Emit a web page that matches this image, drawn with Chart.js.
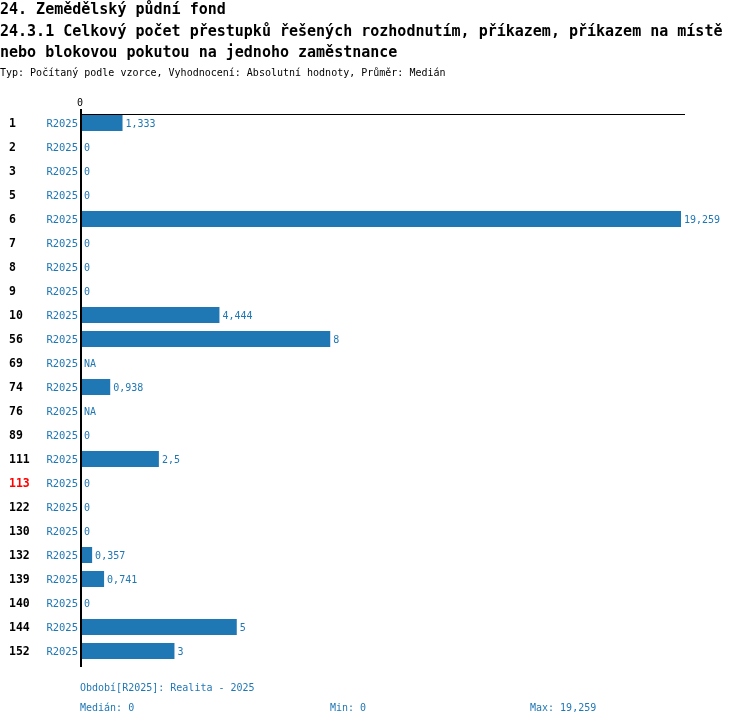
<!DOCTYPE html>
<html>
<head>
<meta charset="utf-8">
<script src="https://cdn.jsdelivr.net/npm/chart.js@4/dist/chart.umd.min.js"></script>
<style>
body { margin: 0; background: #fff; }
canvas { display: block; }
</style>
</head>
<body>
<canvas id="c" width="750" height="726"></canvas>
<script>
// data
var categories = ['1', '2', '3', '5', '6', '7', '8', '9', '10', '56', '69', '74', '76', '89', '111', '113', '122', '130', '132', '139', '140', '144', '152'];
var periods = ['R2025', 'R2025', 'R2025', 'R2025', 'R2025', 'R2025', 'R2025', 'R2025', 'R2025', 'R2025', 'R2025', 'R2025', 'R2025', 'R2025', 'R2025', 'R2025', 'R2025', 'R2025', 'R2025', 'R2025', 'R2025', 'R2025', 'R2025'];
var values = [1.333, 0, 0, 0, 19.259, 0, 0, 0, 4.444, 8, null, 0.938, null, 0, 2.5, 0, 0, 0, 0.357, 0.741, 0, 5, 3];
var redCategories = ['113'];
var xTicks = [0];

var titles = ['24. Zemědělský půdní fond',
	'24.3.1 Celkový počet přestupků řešených rozhodnutím, příkazem, příkazem na místě',
	'nebo blokovou pokutou na jednoho zaměstnance'];
var subtitle = 'Typ: Počítaný podle vzorce, Vyhodnocení: Absolutní hodnoty, Průměr: Medián';
var footPeriod = 'Období[R2025]: Realita - 2025';
var footMedian = 'Medián: 0';
var footMin = 'Min: 0';
var footMax = 'Max: 19,259';

var BLUE = '#1f77b4';
var MONO = '"DejaVu Sans Mono", "Liberation Mono", monospace';

function fmt(v) {
	if (v === null) return 'NA';
	return String(v).replace('.', ',');
}

var textPlugin = {
	id: 'texts',
	afterDraw: function(chart) {
		var ctx = chart.ctx;
		var area = chart.chartArea;
		var ys = chart.scales.y;
		var xs = chart.scales.x;
		ctx.save();

		// titles
		ctx.fillStyle = '#000';
		ctx.textBaseline = 'alphabetic';
		ctx.textAlign = 'left';
		ctx.font = 'bold 15px ' + MONO;
		ctx.fillText(titles[0], 0, 14);
		ctx.fillText(titles[1], 0, 36);
		ctx.fillText(titles[2], 0, 57);
		ctx.font = '10px ' + MONO;
		ctx.fillText(subtitle, 0, 76);

		ctx.textBaseline = 'middle';

		// axis lines
		ctx.strokeStyle = '#000';
		ctx.lineWidth = 1;
		ctx.beginPath();
		ctx.moveTo(area.left, 114.5);
		ctx.lineTo(685, 114.5);
		ctx.stroke();
		ctx.lineWidth = 2;
		ctx.beginPath();
		ctx.moveTo(area.left, 109);
		ctx.lineTo(area.left, 667);
		ctx.stroke();

		// x tick
		ctx.textAlign = 'center';
		ctx.font = '10px ' + MONO;
		for (var t = 0; t < xTicks.length; t++) {
			ctx.fillText(String(xTicks[t]), xs.getPixelForValue(xTicks[t]) - 1, 103);
		}

		// category labels + values
		var meta = chart.getDatasetMeta(0);
		for (var i = 0; i < categories.length; i++) {
			var y = ys.getPixelForValue(i) + 1;
			ctx.textAlign = 'left';
			ctx.font = 'bold 11.5px ' + MONO;
			ctx.fillStyle = redCategories.indexOf(categories[i]) >= 0 ? '#ff0000' : '#000';
			ctx.fillText(categories[i], 9, y);

			ctx.textAlign = 'right';
			ctx.font = '10.5px ' + MONO;
			ctx.fillStyle = BLUE;
			ctx.fillText(periods[i], 78, y);

			ctx.textAlign = 'left';
			ctx.font = '10px ' + MONO;
			var endX = values[i] === null ? area.left : meta.data[i].x;
			ctx.fillText(fmt(values[i]), endX + 3, y);
		}

		// footer
		ctx.fillStyle = BLUE;
		ctx.textAlign = 'left';
		ctx.font = '10px ' + MONO;
		ctx.fillText(footPeriod, 80, 688);
		ctx.fillText(footMedian, 80, 708);
		ctx.fillText(footMin, 330, 708);
		ctx.fillText(footMax, 530, 708);
		ctx.restore();
	}
};

var chart = new Chart(document.getElementById('c'), {
	type: 'bar',
	data: {
		labels: categories,
		datasets: [{
			data: values,
			backgroundColor: BLUE,
			borderWidth: 0,
			barPercentage: 1,
			categoryPercentage: 16 / 24
		}]
	},
	options: {
		indexAxis: 'y',
		responsive: false,
		animation: false,
		devicePixelRatio: 1,
		layout: { padding: { left: 81, right: 69, top: 111, bottom: 63 } },
		plugins: {
			legend: { display: false },
			tooltip: { enabled: false }
		},
		scales: {
			x: { display: false, min: 0, max: Math.max.apply(null, values.filter(function(v) { return v !== null; })) },
			y: { display: false }
		}
	},
	plugins: [textPlugin]
});
</script>
</body>
</html>
